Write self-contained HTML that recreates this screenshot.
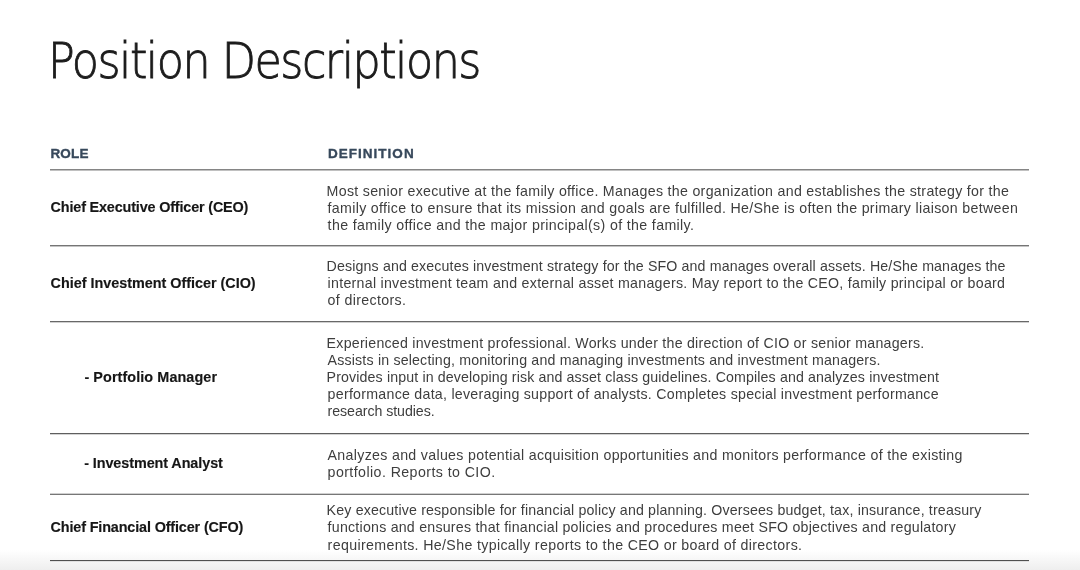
<!DOCTYPE html>
<html><head><meta charset="utf-8"><title>Position Descriptions</title>
<style>
html,body{margin:0;padding:0;}
body{width:1080px;height:570px;position:relative;overflow:hidden;background:#fff;font-family:'Liberation Sans', Arial, sans-serif;}
.wrap{position:absolute;left:0;top:0;width:1080px;height:570px;will-change:transform;z-index:3;}
.title,.head,.lab,.body{position:absolute;white-space:nowrap;}
.title{font-family:'DejaVu Sans','Liberation Sans',sans-serif;font-size:50.5px;line-height:60px;color:#1c1c1c;font-weight:200;-webkit-text-stroke:0.9px #1c1c1c;transform-origin:0 0;transform:scaleX(0.88);}
.head{font-size:13.5px;line-height:16px;color:#37485b;font-weight:700;-webkit-text-stroke:0.35px #37485b;}
.lab{font-size:14.4px;line-height:17px;color:#161616;font-weight:700;-webkit-text-stroke:0.15px #161616;}
.body{font-size:14.2px;line-height:17px;color:#3e3e3e;}
.hr{position:absolute;left:50px;width:978.6px;height:2px;z-index:2;}
.shade{position:absolute;left:0;top:550px;width:1080px;height:20px;z-index:1;background:linear-gradient(to bottom,rgba(238,238,238,0),rgba(238,238,238,1));}
</style></head>
<body>
<div class="wrap">
<div class="title" style="left:48.3px;top:31px;letter-spacing:-1.7px">Position Descriptions</div>
<div class="head" style="left:50.40px;top:146.00px;letter-spacing:0.201px">ROLE</div>
<div class="head" style="left:327.90px;top:145.90px;letter-spacing:1.028px">DEFINITION</div>
<div class="lab" style="left:50.60px;top:199.40px;letter-spacing:-0.162px">Chief Executive Officer (CEO)</div>
<div class="lab" style="left:50.60px;top:275.40px;letter-spacing:-0.017px">Chief Investment Officer (CIO)</div>
<div class="lab" style="left:84.40px;top:369.40px;letter-spacing:0.082px">- Portfolio Manager</div>
<div class="lab" style="left:84.20px;top:455.30px;letter-spacing:-0.082px">- Investment Analyst</div>
<div class="lab" style="left:50.60px;top:518.80px;letter-spacing:-0.143px">Chief Financial Officer (CFO)</div>
<div class="body" style="left:326.60px;top:182.70px;letter-spacing:0.299px">Most senior executive at the family office. Manages the organization and establishes the strategy for the</div>
<div class="body" style="left:327.60px;top:199.60px;letter-spacing:0.326px">family office to ensure that its mission and goals are fulfilled. He/She is often the primary liaison between</div>
<div class="body" style="left:327.60px;top:216.60px;letter-spacing:0.357px">the family office and the major principal(s) of the family.</div>
<div class="body" style="left:326.60px;top:258.40px;letter-spacing:0.136px">Designs and executes investment strategy for the SFO and manages overall assets. He/She manages the</div>
<div class="body" style="left:327.60px;top:275.30px;letter-spacing:0.273px">internal investment team and external asset managers. May report to the CEO, family principal or board</div>
<div class="body" style="left:327.60px;top:292.30px;letter-spacing:0.352px">of directors.</div>
<div class="body" style="left:326.60px;top:334.80px;letter-spacing:0.243px">Experienced investment professional. Works under the direction of CIO or senior managers.</div>
<div class="body" style="left:327.60px;top:352.00px;letter-spacing:0.176px">Assists in selecting, monitoring and managing investments and investment managers.</div>
<div class="body" style="left:326.60px;top:369.20px;letter-spacing:0.131px">Provides input in developing risk and asset class guidelines. Compiles and analyzes investment</div>
<div class="body" style="left:327.60px;top:386.40px;letter-spacing:0.264px">performance data, leveraging support of analysts. Completes special investment performance</div>
<div class="body" style="left:327.60px;top:403.20px;letter-spacing:-0.062px">research studies.</div>
<div class="body" style="left:327.60px;top:446.60px;letter-spacing:0.315px">Analyzes and values potential acquisition opportunities and monitors performance of the existing</div>
<div class="body" style="left:327.60px;top:464.20px;letter-spacing:0.425px">portfolio. Reports to CIO.</div>
<div class="body" style="left:326.60px;top:502.10px;letter-spacing:0.165px">Key executive responsible for financial policy and planning. Oversees budget, tax, insurance, treasury</div>
<div class="body" style="left:327.60px;top:519.20px;letter-spacing:0.231px">functions and ensures that financial policies and procedures meet SFO objectives and regulatory</div>
<div class="body" style="left:327.60px;top:536.60px;letter-spacing:0.352px">requirements. He/She typically reports to the CEO or board of directors.</div>
</div>
<div class="hr" style="top:169px;background:linear-gradient(#858585 0 1px,#c0c0c0 1px 2px)"></div>
<div class="hr" style="top:245px;background:linear-gradient(#757575 0 1px,#c4c4c4 1px 2px)"></div>
<div class="hr" style="top:321px;background:linear-gradient(#686868 0 1px,#d0d0d0 1px 2px)"></div>
<div class="hr" style="top:433px;background:linear-gradient(#5f5f5f 0 1px,#d4d4d4 1px 2px)"></div>
<div class="hr" style="top:493px;background:linear-gradient(#d0d0d0 0 1px,#777777 1px 2px)"></div>
<div class="hr" style="top:560px;background:linear-gradient(#505050 0 1px,#e0e0e0 1px 2px)"></div>
<div class="shade"></div>
</body></html>
